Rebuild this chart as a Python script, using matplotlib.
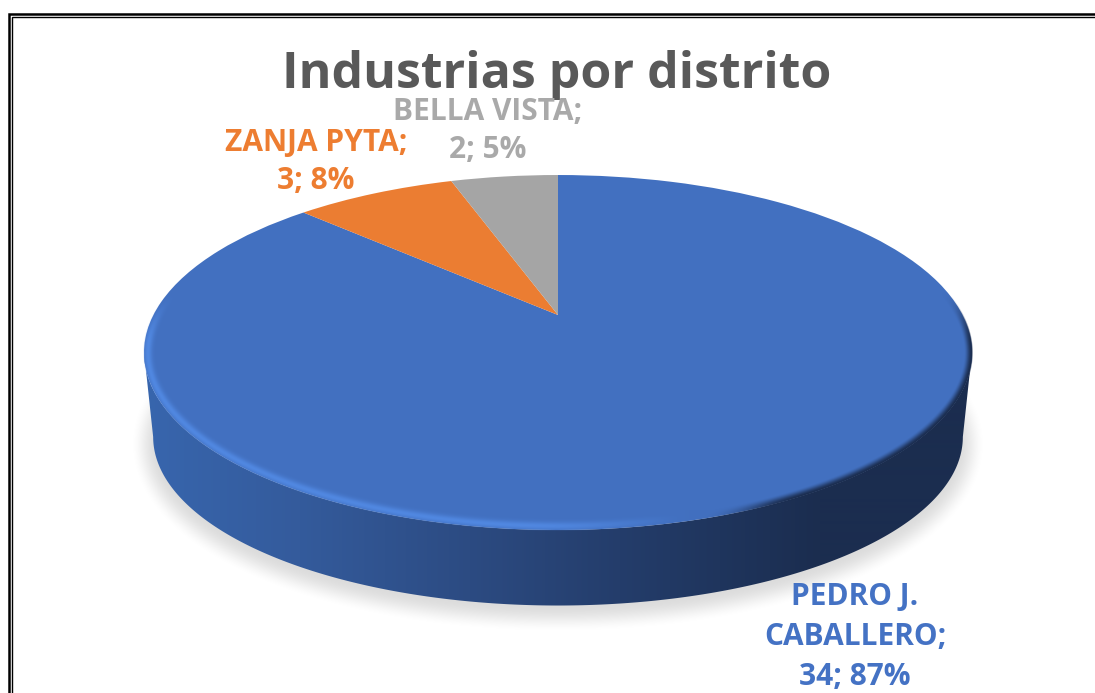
import numpy as np
import matplotlib
matplotlib.use('Agg')
import matplotlib.pyplot as plt
from matplotlib.patches import Polygon
from matplotlib.transforms import Transform

# Datos
distritos = ['PEDRO J.\nCABALLERO', 'ZANJA PYTA', 'BELLA VISTA']
industrias = [34, 3, 2]
colores = ['#4270C0', '#EB7D32', '#A5A5A5']
colores_texto = ['#4472C4', '#ED7D31', '#A9A9A9']
titulo = 'Industrias por distrito'

W, H = 1095, 693
CX, RX = 558, 404.6
A, B, C = -103.0, 315.0, 0.2113


# Perspectiva de la tapa del pastel, en pixeles de la imagen
def proyectar(x, y):
    d = 1 + C * y
    return CX + RX * x / d, (A * y + B) / d


class Perspectiva(Transform):
    input_dims = 2
    output_dims = 2

    def transform_non_affine(self, xy):
        xy = np.asarray(xy, dtype=float)
        return np.column_stack(proyectar(xy[:, 0], xy[:, 1]))


def a_base(X, Y):
    return CX + 0.978 * (X - CX), 437 + 0.95 * (Y - 352.6)


def smooth(v, a, b):
    t = np.clip((v - a) / (b - a), 0, 1)
    return t * t * (3 - 2 * t)


def radio_tapa(X, Y):
    y = (B - Y) / (C * Y - A)
    x = (X - CX) * (1 + C * y) / RX
    return np.sqrt(x ** 2 + y ** 2)


fig = plt.figure(figsize=(W / 100, H / 100), dpi=100)
ax = fig.add_axes([0, 0, 1, 1])

# Tapa
wedges, _ = ax.pie(industrias, colors=colores, startangle=90, counterclock=False,
                   wedgeprops={'linewidth': 0})
for w in wedges:
    w.set_transform(Perspectiva() + ax.transData)
    w.set_zorder(3)

ax.set_aspect('auto')
ext = (0, W, H, 0)

XX, YY = np.meshgrid(np.arange(W) + 0.5, np.arange(H) + 0.5)

# Sombra
Xs = CX + (XX - CX) / 0.985
Ys = 352.6 + (YY - 8 - 437) / 0.95
rs = radio_tapa(Xs, Ys)
gy, gx = np.gradient(rs)
ds = (rs - 1) / np.maximum(np.hypot(gx, gy), 1e-6)
sombra = np.zeros((H, W, 4))
sombra[..., 3] = 0.14 * (1 - smooth(ds, -8, 20)) * smooth(YY, 340, 420)
ax.imshow(sombra, extent=ext, aspect='auto', zorder=1, interpolation='bilinear')

# Lateral con degradado
ang = np.degrees(np.arcsin(C))
t = np.radians(np.linspace(180 + ang, 360 - ang, 300))
rx, ry = proyectar(np.cos(t), np.sin(t))
bx, by = a_base(rx, ry)
contorno = np.vstack([np.column_stack([rx, ry]), np.column_stack([bx, by])[::-1]])
lado = Polygon(contorno, closed=True, transform=ax.transData, facecolor='none', edgecolor='none')
ax.add_patch(lado)

paradas_x = [140, 300, 470, 620, 720, 820, 980]
paradas_r = [0x38, 0x34, 0x2C, 0x24, 0x1F, 0x1B, 0x1B]
paradas_g = [0x66, 0x5B, 0x4B, 0x3D, 0x35, 0x2D, 0x2D]
paradas_b = [0xAE, 0x9C, 0x82, 0x6B, 0x5D, 0x4F, 0x4F]
xs = np.arange(W) + 0.5
grad = np.dstack([np.interp(xs, paradas_x, p) / 255 for p in (paradas_r, paradas_g, paradas_b)])
img = ax.imshow(grad, extent=ext, aspect='auto', zorder=2, interpolation='bilinear')
img.set_clip_path(lado)

# Bisel del borde de la tapa
r = radio_tapa(XX, YY)
gy, gx = np.gradient(r)
d = (1 - r) / np.maximum(np.hypot(gx, gy), 1e-6)
frente = smooth(YY, 290, 345)

claro = np.array([0x52, 0x8A, 0xE4]) / 255
oscuro = np.array([0x1B, 0x2D, 0x4F]) / 255
mezcla = smooth(XX, 640, 780)
capa = np.zeros((H, W, 4))
for i in range(3):
    capa[..., i] = claro[i] * (1 - mezcla) + oscuro[i] * mezcla
pico_claro = np.exp(-((d - 4) / 4.0) ** 2) * (1 - smooth(XX, 520, 720)) * 0.9
pico_oscuro = (1 - smooth(d, 0, 8)) * smooth(XX, 690, 800)
capa[..., 3] = np.maximum(pico_claro, pico_oscuro) * frente * smooth(d, -1.5, 0.5)
ax.imshow(capa, extent=ext, aspect='auto', zorder=4, interpolation='bilinear')

ax.set_xlim(0, W)
ax.set_ylim(H, 0)
ax.axis('off')

# Marco doble
ax.plot([8.8, 8.8, W], [H, 13.8, 13.8], color='black', lw=1.8, zorder=6, solid_joinstyle='miter')
ax.plot([11.8, 11.8, W], [H, 16.8, 16.8], color='black', lw=1.0, zorder=6, solid_joinstyle='miter')

# Textos
fuente = 'Open Sans'
ax.text(557, 75, titulo, ha='center', va='center', fontsize=36, fontweight='bold',
        color='#595959', family=fuente, zorder=7)

total = sum(industrias)
pos_etiquetas = [(855, 637), (316, 162), (488, 131)]
espaciado = [1.43, 1.35, 1.35]
for nombre, v, c, (px, py), esp in zip(distritos, industrias, colores_texto, pos_etiquetas, espaciado):
    etiqueta = f'{nombre};\n{v}; {round(100 * v / total)}%'
    ax.text(px, py, etiqueta, ha='center', va='center', fontsize=21.5, fontweight='bold',
            color=c, family=fuente, linespacing=esp, zorder=7)

fig.savefig('out.png', dpi=100)
